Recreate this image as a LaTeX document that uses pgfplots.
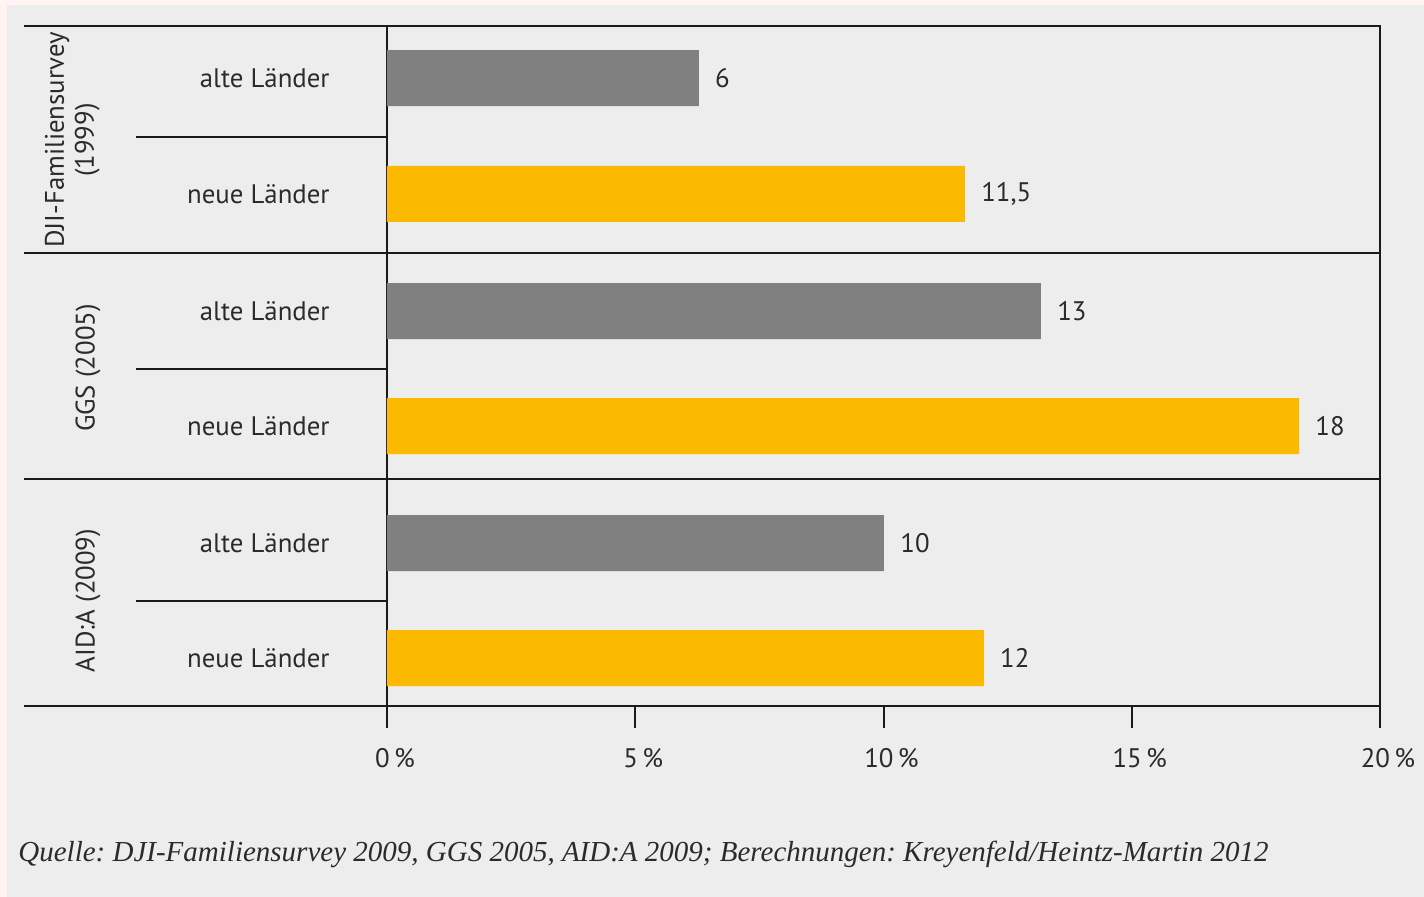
\documentclass[border=0pt]{standalone}
\usepackage{fontspec}
\setmainfont{PT Sans}
\newfontfamily\quellefont{Liberation Serif}
\usepackage{pgfplots}
\pgfplotsset{compat=1.18}

\definecolor{bargray}{HTML}{808080}
\definecolor{barorange}{HTML}{FBBA00}
\definecolor{panel}{HTML}{EDEDED}
\definecolor{rim}{HTML}{FFF4F2}
\definecolor{rule}{HTML}{1A1A1A}
\definecolor{ink}{HTML}{2B2B2B}

% bar positions (row centres), bar lengths and printed values
\pgfplotstableread{
pos   val    label
0.459 6.28   6
2.515 13.17  13
4.562 10.01  10
}\alte
\pgfplotstableread{
pos   val    label
1.482 11.64  {11,5}
3.530 18.37  18
5.577 12.02  12
}\neue

\begin{document}
\frenchspacing
\begin{tikzpicture}[font=\fontsize{13.4}{15}\selectfont, text=ink]
  % background
  \fill[rim] (-193.5pt,-95.5pt) rectangle (518.5pt,353pt);
  \fill[panel] (-190pt,-95.5pt) rectangle (518.5pt,350.5pt);
  \useasboundingbox (-193.5pt,-95.5pt) rectangle (518.5pt,353pt);

  \begin{axis}[
    scale only axis,
    width=496.5pt, height=340pt,
    xbar, bar width=28pt, bar shift=0pt,
    xmin=0, xmax=20, ymin=0, ymax=6,
    y dir=reverse,
    clip=false,
    axis line style={draw=rule, line width=1pt},
    % x-axis
    xtick={0,5,10,15,20},
    xticklabels={0\,\%,5\,\%,10\,\%,15\,\%,20\,\%},
    xtick pos=bottom,
    tick align=outside,
    major tick length=11pt,
    xtick style={draw=rule, line width=1pt},
    xticklabel style={anchor=base, inner sep=0pt, yshift=-19.5pt, xshift=4pt},
    % y-axis
    ytick={0.459,1.482,2.515,3.530,4.562,5.577},
    yticklabels={alte Länder,neue Länder,alte Länder,neue Länder,alte Länder,neue Länder},
    ytick style={draw=none},
    yticklabel style={anchor=east, inner sep=0pt, xshift=-17.5pt},
    % value labels
    nodes near coords,
    point meta=explicit symbolic,
    nodes near coords style={anchor=west, inner sep=0pt, xshift=8pt, text=ink},
    ]

    \addplot[fill=bargray, draw=none] table[x=val, y=pos, meta=label] {\alte};
    \addplot[fill=barorange, draw=none] table[x=val, y=pos, meta=label] {\neue};

    % separators
    \draw[rule, line width=1pt] (axis cs:-7.31,0) -- (axis cs:20,0);
    \draw[rule, line width=1pt] (axis cs:-7.31,2) -- (axis cs:20,2);
    \draw[rule, line width=1pt] (axis cs:-7.31,4) -- (axis cs:20,4);
    \draw[rule, line width=1pt] (axis cs:-7.31,6) -- (axis cs:20,6);
    \draw[rule, line width=1pt] (axis cs:-5.055,0.98) -- (axis cs:0,0.98);
    \draw[rule, line width=1pt] (axis cs:-5.055,3.03) -- (axis cs:0,3.03);
    \draw[rule, line width=1pt] (axis cs:-5.055,5.07) -- (axis cs:0,5.07);

    % group labels
    \node[rotate=90, align=center, inner sep=0pt] at (axis cs:-6.34,1.006) {DJI-Familiensurvey\\(1999)};
    \node[rotate=90, inner sep=0pt] at (axis cs:-6.02,3.018) {GGS (2005)};
    \node[rotate=90, inner sep=0pt] at (axis cs:-6.02,5.07) {AID:A (2009)};
  \end{axis}

  \node[anchor=base west, inner sep=0pt, font=\quellefont\itshape\fontsize{14.5}{16}\selectfont]
    at (-184.5pt,-78pt) {Quelle: DJI-Familiensurvey 2009, GGS 2005, AID:A 2009; Berechnungen: Kreyenfeld/Heintz-Martin 2012};
\end{tikzpicture}
\end{document}
